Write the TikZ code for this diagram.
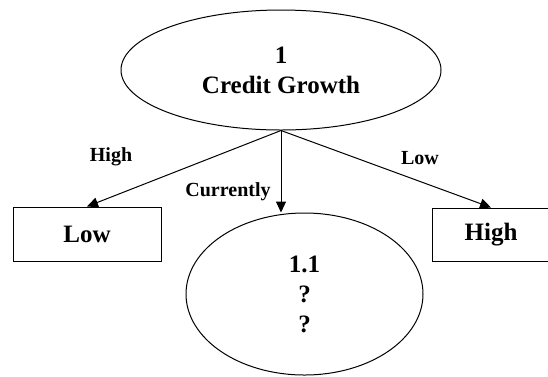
\documentclass[tikz,border=0pt]{standalone}
\usepackage{fontspec}
\setmainfont{Liberation Serif}
\usetikzlibrary{shapes.geometric,arrows.meta}

\begin{document}
\begin{tikzpicture}[x=1pt,y=-1pt,
    oval/.style={draw,ellipse,line width=1pt,inner sep=0pt,align=center,
        font=\bfseries\fontsize{25}{30}\selectfont},
    leaf/.style={draw,rectangle,line width=1pt,inner sep=0pt,
        font=\bfseries\fontsize{25}{30}\selectfont},
    branch/.style={font=\bfseries\fontsize{20}{24}\selectfont},
    link/.style={line width=1pt,-{Triangle[length=11pt,width=10pt]}}]
    \useasboundingbox (0,0) rectangle (548,376);

    % nodes
    \node[oval,minimum width=320pt,minimum height=120pt] (root) at (281,70) {1\\Credit Growth};
    \node[leaf,minimum width=148pt,minimum height=54pt] (low) at (87,234) {Low};
    \node[leaf,minimum width=118pt,minimum height=53pt] (high) at (491,234.5) {High};
    \node[oval,minimum width=237pt,minimum height=162pt] (now) at (304.5,294) {1.1\\?\\?};

    % branches
    \draw[link] (root.south) -- (low.north);
    \draw[link] (root.south) -- (root.south |- now.north);
    \draw[link] (root.south) -- (high.north);

    \node[branch] (lblhigh) at (111,157) {High};
    \node[branch] (lblnow) at (228,192) {Currently};
    \node[branch] (lbllow) at (420,158) {Low};
\end{tikzpicture}
\end{document}
